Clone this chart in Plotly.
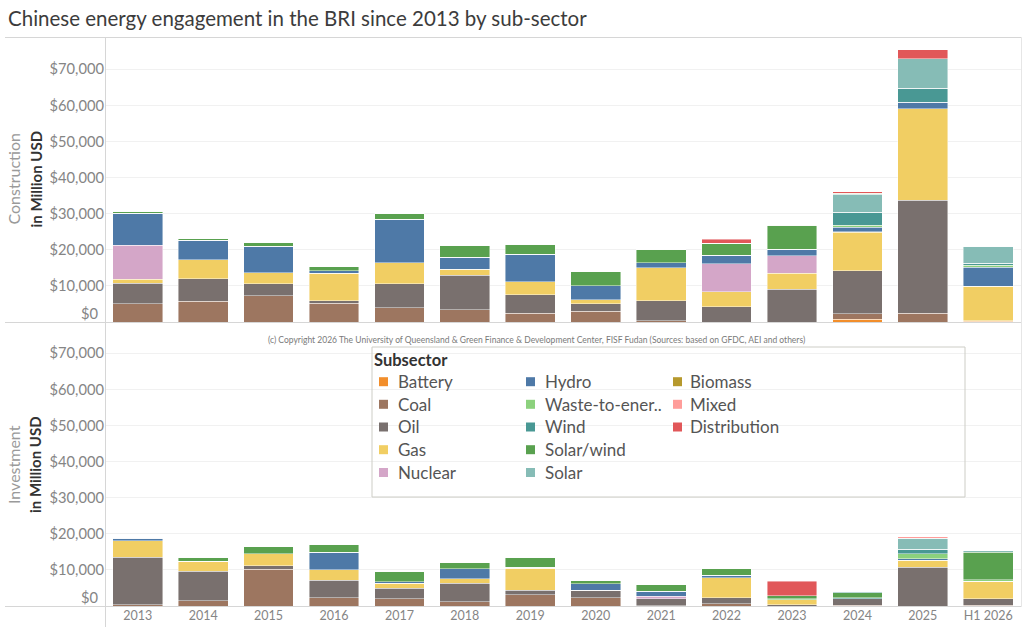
import plotly.graph_objects as go

# ---------------- data ----------------
years = ["2013", "2014", "2015", "2016", "2017", "2018", "2019", "2020",
         "2021", "2022", "2023", "2024", "2025", "H1 2026"]

subsectors = ["Battery", "Coal", "Oil", "Gas", "Nuclear", "Hydro", "Waste-to-energy",
              "Wind", "Solar/wind", "Solar", "Biomass", "Mixed", "Distribution"]
legend_labels = ["Battery", "Coal", "Oil", "Gas", "Nuclear", "Hydro", "Waste-to-ener..",
                 "Wind", "Solar/wind", "Solar", "Biomass", "Mixed", "Distribution"]
colors = ["#F28E2B", "#9D7660", "#79706E", "#F1CE63", "#D4A6C8", "#4E79A7", "#8CD17D",
          "#499894", "#59A14F", "#86BCB6", "#B6992D", "#FF9D9A", "#E15759"]

# Construction (million USD)
con_battery = [0, 0, 0, 0, 0, 0, 0, 0, 0, 0, 0, 740, 0, 150]
con_coal = [5000, 5740, 7220, 5190, 3890, 3330, 2410, 2960, 280, 0, 0, 1570, 2410, 250]
con_oil = [5740, 6300, 3340, 740, 6670, 9630, 5180, 2040, 5650, 4260, 9070, 11950, 31290, 0]
con_gas = [1110, 5180, 3140, 7590, 5920, 1670, 3520, 1110, 9070, 4070, 4450, 10550, 25370, 9440]
con_nuclear = [9350, 0, 0, 0, 0, 0, 0, 0, 0, 7870, 4810, 190, 0, 0]
con_hydro = [8890, 5470, 7230, 740, 11950, 3240, 7590, 3890, 1480, 2230, 1860, 1300, 1760, 5370]
con_wte = [0, 0, 0, 0, 0, 0, 0, 0, 0, 0, 0, 550, 0, 460]
con_wind = [0, 0, 0, 0, 0, 0, 0, 0, 0, 0, 0, 3520, 3980, 650]
con_solarwind = [650, 370, 1200, 1020, 1760, 3430, 2780, 3890, 3520, 3420, 6570, 0, 0, 0]
con_solar = [0, 0, 0, 0, 0, 0, 0, 0, 0, 0, 0, 5000, 8150, 4720]
con_biomass = [0, 0, 0, 0, 0, 0, 0, 0, 0, 0, 0, 280, 0, 0]
con_mixed = [0, 0, 0, 0, 0, 0, 0, 0, 0, 0, 190, 0, 0, 0]
con_distribution = [0, 0, 0, 0, 0, 0, 0, 0, 0, 1110, 0, 370, 2410, 0]

# Investment (million USD)
inv_battery = [0, 0, 0, 0, 0, 0, 0, 0, 0, 0, 0, 0, 0, 0]
inv_coal = [280, 1400, 10190, 2340, 1960, 1210, 3080, 2240, 90, 560, 0, 190, 0, 190]
inv_oil = [13270, 8230, 930, 4760, 2990, 5050, 1310, 2150, 1970, 1780, 280, 1870, 10750, 1770]
inv_gas = [4580, 2710, 3370, 2900, 1310, 1310, 6080, 0, 0, 5420, 1500, 0, 1960, 4960]
inv_nuclear = [0, 0, 0, 0, 0, 0, 0, 0, 650, 0, 0, 0, 0, 0]
inv_hydro = [660, 0, 0, 4950, 470, 2800, 280, 1780, 1310, 740, 0, 0, 370, 0]
inv_wte = [0, 0, 0, 0, 0, 0, 0, 0, 0, 0, 280, 0, 1400, 370]
inv_wind = [0, 0, 0, 0, 0, 0, 0, 0, 0, 0, 0, 280, 1210, 0]
inv_solarwind = [280, 1120, 1960, 2150, 2800, 1780, 2710, 840, 1870, 1870, 740, 1400, 0, 7660]
inv_solar = [0, 0, 0, 0, 0, 0, 0, 0, 0, 0, 0, 280, 3080, 370]
inv_biomass = [0, 0, 0, 0, 0, 0, 0, 0, 0, 0, 0, 0, 0, 0]
inv_mixed = [0, 0, 0, 0, 0, 0, 0, 0, 0, 0, 0, 0, 370, 0]
inv_distribution = [0, 0, 0, 0, 0, 0, 0, 0, 0, 0, 4020, 0, 0, 0]

y_tickvals = [10000, 20000, 30000, 40000, 50000, 60000, 70000]
y_ticktext = ["$10,000", "$20,000", "$30,000", "$40,000", "$50,000", "$60,000", "$70,000"]
zero_label = "$0"

construction = [con_battery, con_coal, con_oil, con_gas, con_nuclear, con_hydro, con_wte,
                con_wind, con_solarwind, con_solar, con_biomass, con_mixed, con_distribution]
investment = [inv_battery, inv_coal, inv_oil, inv_gas, inv_nuclear, inv_hydro, inv_wte,
              inv_wind, inv_solarwind, inv_solar, inv_biomass, inv_mixed, inv_distribution]

# ---------------- layout geometry ----------------
W, H = 1024, 627
L, R, T, B = 105, 3, 37, 21
PW, PH = W - L - R, H - T - B


def px_x(x):
    return (x - L) / PW


def px_y(y):
    return (T + PH - y) / PH


FONT = "Lato"
PX_PER_UNIT = 36.1 / 10000.0
top_zero, bot_zero = 322, 606
top_dom = [px_y(top_zero), 1.0]
bot_dom = [0.0, px_y(323.5)]
top_range = [0, (top_zero - T) / PX_PER_UNIT]
bot_range = [0, (bot_zero - 323.5) / PX_PER_UNIT]

fig = go.Figure()
for name, col, c_vals, i_vals in zip(subsectors, colors, construction, investment):
    fig.add_trace(go.Bar(x=years, y=c_vals, name=name, marker_color=col,
                         marker_line=dict(color="rgba(255,255,255,0.55)", width=0.8),
                         xaxis="x", yaxis="y", showlegend=False))
    fig.add_trace(go.Bar(x=years, y=i_vals, name=name, marker_color=col,
                         marker_line=dict(color="rgba(255,255,255,0.55)", width=0.8),
                         xaxis="x2", yaxis="y2", showlegend=False))

grid = "#f1f1f1"
tick_col = "#858585"
TICK_SIZE = 14.7
axis_common = dict(tickvals=y_tickvals, ticktext=y_ticktext,
                   gridcolor=grid, gridwidth=1, zeroline=False, showline=False,
                   tickfont=dict(family=FONT, size=TICK_SIZE, color=tick_col), fixedrange=True)

fig.update_layout(
    width=W, height=H,
    margin=dict(l=L, r=R, t=T, b=B, pad=0),
    paper_bgcolor="white", plot_bgcolor="white",
    barmode="stack", bargap=0.24,
    font=dict(family=FONT),
    xaxis=dict(domain=[0, 1], anchor="y", showticklabels=False, showgrid=False,
               type="category", categoryorder="array", categoryarray=years),
    xaxis2=dict(domain=[0, 1], anchor="y2", showgrid=False, type="category",
                categoryorder="array", categoryarray=years, ticks="",
                tickfont=dict(family=FONT, size=12.5, color=tick_col)),
    yaxis=dict(domain=top_dom, range=top_range, anchor="x", **axis_common),
    yaxis2=dict(domain=bot_dom, range=bot_range, anchor="x2", **axis_common),
)

line_col = "#d6d6d6"
shapes = []
# frame lines
shapes.append(dict(type="line", xref="paper", yref="paper", x0=px_x(5), x1=px_x(1021.5),
                   y0=px_y(37.5), y1=px_y(37.5), line=dict(color=line_col, width=1)))
shapes.append(dict(type="line", xref="paper", yref="paper", x0=px_x(5), x1=px_x(1021.5),
                   y0=px_y(322.5), y1=px_y(322.5), line=dict(color=line_col, width=1)))
shapes.append(dict(type="line", xref="paper", yref="paper", x0=px_x(5), x1=px_x(1021.5),
                   y0=px_y(606.5), y1=px_y(606.5), line=dict(color=line_col, width=1)))
shapes.append(dict(type="line", xref="paper", yref="paper", x0=px_x(105.5), x1=px_x(105.5),
                   y0=px_y(37.5), y1=px_y(627), line=dict(color=line_col, width=1)))
shapes.append(dict(type="line", xref="paper", yref="paper", x0=px_x(1021.5), x1=px_x(1021.5),
                   y0=px_y(37.5), y1=px_y(606.5), line=dict(color="#e6e6e6", width=1)))
# legend box
shapes.append(dict(type="rect", xref="paper", yref="paper", x0=px_x(372), x1=px_x(965),
                   y0=px_y(497), y1=px_y(347), line=dict(color="#cdcdc6", width=1),
                   fillcolor="rgba(0,0,0,0)"))

annotations = []
annotations.append(dict(text="Chinese energy engagement in the BRI since 2013 by sub-sector",
                        xref="paper", yref="paper", x=px_x(6), y=px_y(18), xanchor="left",
                        yanchor="middle", showarrow=False,
                        font=dict(family=FONT, size=20.5, color="#3c3c3c")))
# "$0" labels sit slightly above the baseline (as in the reference)
for zy in (313, 597):
    annotations.append(dict(text=zero_label, xref="paper", yref="paper", x=px_x(100.5),
                            y=px_y(zy), xanchor="right", yanchor="middle", showarrow=False,
                            font=dict(family=FONT, size=TICK_SIZE, color=tick_col)))
for label, cy in (("Construction", 179.5), ("Investment", 465)):
    annotations.append(dict(text=label, xref="paper", yref="paper", x=px_x(13), y=px_y(cy),
                            xanchor="center", yanchor="middle", textangle=-90, showarrow=False,
                            font=dict(family=FONT, size=16, color="#9a9a9a")))
    annotations.append(dict(text="in Million USD", xref="paper", yref="paper", x=px_x(35),
                            y=px_y(cy), xanchor="center", yanchor="middle", textangle=-90,
                            showarrow=False,
                            font=dict(family=FONT, size=15, color="#333333", weight="bold")))
annotations.append(dict(
    text="(c) Copyright 2026 The University of Queensland & Green Finance & Development Center, "
         "FISF Fudan (Sources: based on GFDC, AEI and others)",
    xref="paper", yref="paper", x=px_x(536), y=px_y(340), xanchor="center", yanchor="middle",
    showarrow=False, font=dict(family=FONT, size=8.5, color="#7a7a7a")))
annotations.append(dict(text="Subsector", xref="paper", yref="paper", x=px_x(372), y=px_y(360),
                        xanchor="left", yanchor="middle", showarrow=False,
                        font=dict(family=FONT, size=16.5, color="#333333", weight="bold")))

# manual legend (3 columns, column-major)
col_sq_x = [379, 526, 673]
col_tx_x = [396, 543, 688]
row_y = [381.7, 404.3, 427.0, 449.7, 472.5]
for i, (lab, col) in enumerate(zip(legend_labels, colors)):
    c, r = divmod(i, 5)
    cy = row_y[r]
    shapes.append(dict(type="rect", xref="paper", yref="paper",
                       x0=px_x(col_sq_x[c]), x1=px_x(col_sq_x[c] + 9),
                       y0=px_y(cy + 4.5), y1=px_y(cy - 4.5),
                       line=dict(width=0), fillcolor=col))
    annotations.append(dict(text=lab, xref="paper", yref="paper", x=px_x(col_tx_x[c]),
                            y=px_y(cy), xanchor="left", yanchor="middle", showarrow=False,
                            font=dict(family=FONT, size=17, color="#555555")))

fig.update_layout(shapes=shapes, annotations=annotations)
fig.write_html("out.html")
